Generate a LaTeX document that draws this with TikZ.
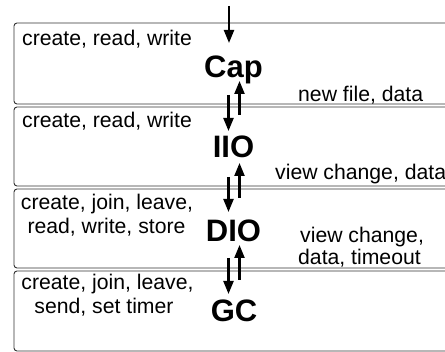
\documentclass[tikz,border=0pt]{standalone}
\usepackage{fontspec}
\setmainfont{Liberation Sans}
\usetikzlibrary{arrows.meta}
\tikzset{
  layerbox/.style={draw=black!80, line width=0.9pt, rounded corners=3pt},
  lbl/.style={font=\fontsize{21.2}{24}\selectfont, inner sep=0pt, align=center},
  lname/.style={font=\fontsize{31}{34}\selectfont\bfseries, inner sep=0pt, anchor=base},
  flow/.style={line width=2.2pt, -{Triangle[length=13pt, width=10pt]}}
}
\begin{document}
\begin{tikzpicture}[x=1pt, y=-1pt]
\useasboundingbox (0,0) rectangle (445,352);
% layer boxes (right side runs past the picture edge)
\draw[layerbox] (14,23) rectangle (470,104);
\draw[layerbox] (14,107) rectangle (470,186);
\draw[layerbox] (14,189) rectangle (470,268);
\draw[layerbox] (14,271) rectangle (470,351);
% layer names
\node[lname] (cap) at (233.5,78) {Cap};
\node[lname] (iio) at (233.5,158) {IIO};
\node[lname] (dio) at (233.5,242) {DIO};
\node[lname] (gc)  at (234,322) {GC};
% left labels
\node[lbl, anchor=base west] (l1) at (22,46) {create, read, write};
\node[lbl, anchor=base west] (l2) at (22,128) {create, read, write};
\node[lbl, anchor=base] (l3a) at (107,210) {create, join, leave,};
\node[lbl, anchor=base] (l3b) at (106.5,234) {read, write, store};
\node[lbl, anchor=base] (l4a) at (107.5,290) {create, join, leave,};
\node[lbl, anchor=base] (l4b) at (104,314) {send, set timer};
% right labels
\node[lbl, anchor=base west] (r1) at (298,102) {new file, data};
\node[lbl, anchor=base west] (r2) at (275,180) {view change, data};
\node[lbl, anchor=base west] (r3a) at (300,243) {view change,};
\node[lbl, anchor=base west] (r3b) at (298,265) {data, timeout};
% arrow end points
\coordinate (t0) at (229,6);   \coordinate (t1) at (229,43);
\coordinate (d1s) at (228.5,95);  \coordinate (d1e) at (228.5,131);
\coordinate (u1s) at (239.5,115); \coordinate (u1e) at (239.5,81);
\coordinate (d2s) at (228.5,177); \coordinate (d2e) at (228.5,212);
\coordinate (u2s) at (239.5,198); \coordinate (u2e) at (239.5,163);
\coordinate (d3s) at (228.5,258); \coordinate (d3e) at (228.5,294);
\coordinate (u3s) at (239.5,280); \coordinate (u3e) at (239.5,245);
% arrows
\draw[flow] (t0) -- (t1);
\draw[flow] (d1s) -- (d1e);
\draw[flow] (u1s) -- (u1e);
\draw[flow] (d2s) -- (d2e);
\draw[flow] (u2s) -- (u2e);
\draw[flow] (d3s) -- (d3e);
\draw[flow] (u3s) -- (u3e);
\end{tikzpicture}
\end{document}
